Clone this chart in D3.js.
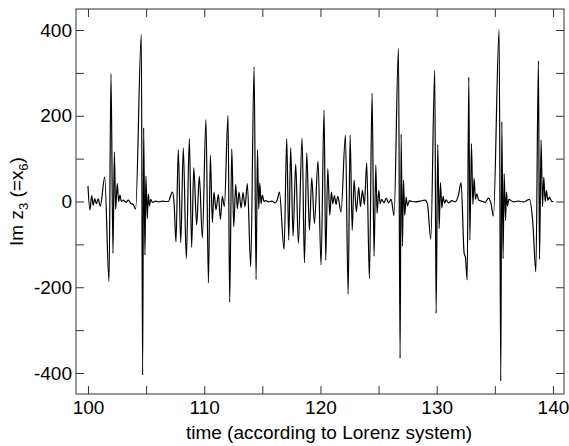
<!DOCTYPE html>
<html>
<head>
<meta charset="utf-8">
<script src="https://cdn.jsdelivr.net/npm/d3@7"></script>
<style>
  body { margin: 0; background: #fff; }
  svg text { font-family: "Liberation Sans", Arial, Helvetica, sans-serif; fill: #000; }
</style>
</head>
<body>
<svg id="chart" width="569" height="446"></svg>
<script>
// time axis (according to Lorenz system) at the turning points
const time = [
  100.00, 100.17, 100.32, 100.45, 100.58, 100.73, 100.88, 101.06, 101.44, 101.81,
  101.98, 102.15, 102.27, 102.38, 102.52, 102.64, 102.75, 102.87, 103.04, 103.27,
  103.47, 103.67, 103.90, 104.10, 104.59, 104.70, 104.79, 104.90, 104.98, 105.10,
  105.19, 105.28, 105.40, 105.55, 105.80, 106.10, 106.40, 106.70, 106.91, 107.26,
  107.40, 107.57, 107.77, 107.98, 108.20, 108.46, 108.72, 108.92, 109.10, 109.35,
  109.58, 109.84, 110.15, 110.36, 110.53, 110.70, 110.84, 111.01, 111.22, 111.39,
  111.56, 111.73, 112.05, 112.19, 112.37, 112.54, 112.71, 112.85, 112.99, 113.17,
  113.34, 113.51, 113.71, 114.00, 114.29, 114.46, 114.58, 114.69, 114.78, 114.89,
  115.00, 115.15, 115.32, 115.52, 115.81, 116.10, 116.30, 116.47, 116.87, 117.10,
  117.27, 117.44, 117.64, 117.87, 118.10, 118.42, 118.62, 118.82, 119.05, 119.25,
  119.48, 119.79, 120.05, 120.31, 120.45, 120.63, 120.80, 120.94, 121.06, 121.20,
  121.34, 121.49, 121.77, 122.15, 122.38, 122.55, 122.73, 122.89, 123.09, 123.29,
  123.44, 123.61, 123.78, 123.98, 124.21, 124.44, 124.61, 124.76, 124.87, 125.02,
  125.13, 125.27, 125.47, 125.65, 125.85, 126.08, 126.33, 126.71, 126.85, 126.94,
  127.05, 127.14, 127.25, 127.37, 127.48, 127.65, 127.86, 128.14, 128.57, 129.00,
  129.20, 129.49, 129.83, 129.95, 130.09, 130.21, 130.32, 130.44, 130.55, 130.67,
  130.81, 131.01, 131.30, 131.58, 131.87, 132.10, 132.36, 132.47, 132.62, 132.76,
  132.85, 132.99, 133.11, 133.22, 133.33, 133.45, 133.62, 133.88, 134.17, 134.45,
  134.65, 134.88, 135.37, 135.51, 135.60, 135.71, 135.80, 135.92, 136.00, 136.09,
  136.20, 136.61, 137.03, 137.46, 137.98, 138.27, 138.53, 138.75, 138.84, 138.98,
  139.10, 139.21, 139.33, 139.44, 139.56, 139.70, 139.90, 140.05
];

// Im z3 (= x6) at those times
const imZ3 = [
    36,  -20,   14,   -9,    7,   -5,    6,  -11,   57, -187,
   298, -121,  116,  -18,   42,    0,   15,    0,    3,   -2,
     3,   -4,   -7,  -18,  390, -405,  172, -125,   59,  -40,
    18,  -10,    5,   -2,    1,   -1,    1,    0,    0,   22,
     0,  -94,  121,  -96,  125, -133,  147, -107,   79,  -54,
    59,  -85,  191, -190,  108,  -49,   22,  -19,   16,  -42,
    12,  -12,  201, -235,  123,  -59,   40,  -17,   22,  -15,
    21,  -12,   42, -152,  314, -182,  120,  -17,   43,   -5,
    15,    0,    2,   -1,    1,   -3,    5,   22, -112,  147,
   -90,  126,  -81,   87,  -98,  148, -143,  113,  -67,   55,
   -51,   94, -148,  213, -137,   77,  -32,   22,   -5,   14,
    -7,   12,  -24,  155, -216,  155,  -67,   50,  -24,   33,
   -12,   26,   -7,   90, -180,  252, -128,   85,  -28,   26,
    -5,    5,   -3,    8,   -3,    5,  -33,  357, -366,  157,
  -104,   50,  -32,   10,  -10,    2,    0,   -1,    1,    3,
    -5,  -88,  306, -261,  133,  -63,   44,  -15,   12,   -4,
     4,   -3,    2,   -1,   15,   44, -121, -130, -183,  290,
   -90,  135,   -7,   54,    5,   18,    3,    1,   -2,    8,
    -2,  -34,  401, -419,  186, -133,   65,  -44,   22,  -10,
     5,   -1,    1,   -1,    5,  -50, -164,  328, -135,  143,
   -12,   57,    0,   26,    3,   10,    0,    0
];

const xTicks = [100, 105, 110, 115, 120, 125, 130, 135, 140];
const yTicks = [-400, -300, -200, -100, 0, 100, 200, 300, 400];
const xTitle = 'time (according to Lorenz system)';

(function () {
  'use strict';

  const svg = d3.select('#chart');
  const left = 76, right = 564, top = 9, bottom = 394;

  const x = d3.scaleLinear().domain([98.97, 140.95]).range([left, right]);
  const y = d3.scaleLinear().domain([-449, 449]).range([bottom, top]);

  const points = time.map((t, i) => [t, imZ3[i]]);

  // the signal
  const line = d3.line()
    .x(d => x(d[0]))
    .y(d => y(d[1]))
    .curve(d3.curveMonotoneX);

  svg.append('path')
    .datum(points)
    .attr('d', line)
    .attr('fill', 'none')
    .attr('stroke', '#000')
    .attr('stroke-width', 1.2)
    .attr('stroke-linejoin', 'round');

  // axes: ticks pointing inward on all four sides
  const labelX = d => (d % 10 === 0 ? d : '');
  const labelY = d => (d % 200 === 0 ? d : '');

  function styleAxis(g) {
    g.select('.domain').remove();
    g.selectAll('line').attr('stroke', '#333');
    g.selectAll('text').attr('font-size', 19).attr('font-family', '"Liberation Sans", Arial, sans-serif');
  }

  svg.append('g')
    .attr('transform', `translate(0,${bottom})`)
    .call(d3.axisBottom(x).tickValues(xTicks).tickSize(-8).tickPadding(6.5).tickFormat(labelX))
    .call(styleAxis);

  svg.append('g')
    .attr('transform', `translate(0,${top})`)
    .call(d3.axisTop(x).tickValues(xTicks).tickSize(-8).tickFormat(''))
    .call(styleAxis);

  svg.append('g')
    .attr('transform', `translate(${left},0)`)
    .call(d3.axisLeft(y).tickValues(yTicks).tickSize(-8).tickPadding(4).tickFormat(labelY))
    .call(styleAxis);

  svg.append('g')
    .attr('transform', `translate(${right},0)`)
    .call(d3.axisRight(y).tickValues(yTicks).tickSize(-8).tickFormat(''))
    .call(styleAxis);

  // frame
  svg.append('rect')
    .attr('x', left)
    .attr('y', top)
    .attr('width', right - left)
    .attr('height', bottom - top)
    .attr('fill', 'none')
    .attr('stroke', '#333')
    .attr('stroke-width', 1);

  // titles
  svg.append('text')
    .attr('x', 329)
    .attr('y', 439)
    .attr('text-anchor', 'middle')
    .attr('font-size', 19)
    .text(xTitle);

  const yLabel = svg.append('text')
    .attr('transform', `translate(23,${(top + bottom) / 2}) rotate(-90)`)
    .attr('text-anchor', 'middle')
    .attr('font-size', 19);
  yLabel.append('tspan').text('Im z');
  yLabel.append('tspan').attr('font-size', 13).attr('dy', 5).text('3');
  yLabel.append('tspan').attr('dy', -5).text(' (=x');
  yLabel.append('tspan').attr('font-size', 13).attr('dy', 5).text('6');
  yLabel.append('tspan').attr('dy', -5).text(')');
}());
</script>
</body>
</html>
